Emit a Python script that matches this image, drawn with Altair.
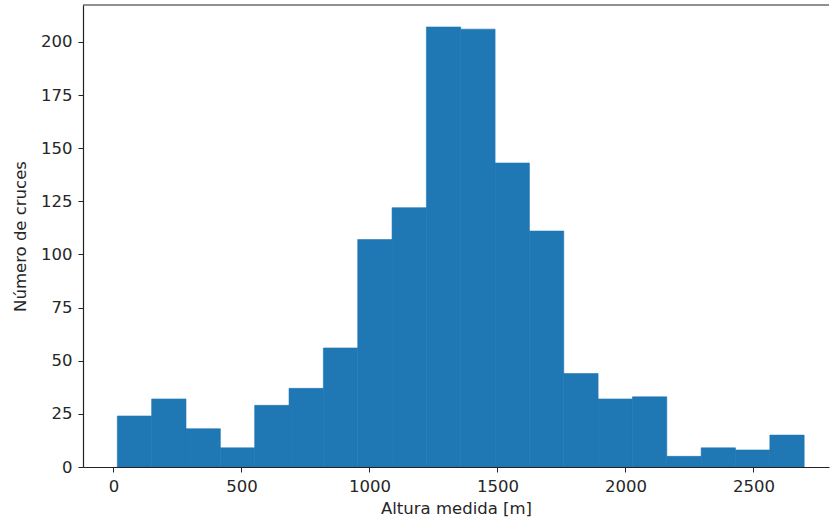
import altair as alt
import pandas as pd

# Histogram of measured heights: bin edges and counts per bin
edges = [15.0, 149.2, 283.3, 417.5, 551.6, 685.8, 819.9, 954.1, 1088.2, 1222.4,
         1356.5, 1490.7, 1624.8, 1759.0, 1893.1, 2027.3, 2161.4, 2295.6, 2429.7,
         2563.9, 2698.0]
counts = [24, 32, 18, 9, 29, 37, 56, 107, 122, 207, 206, 143, 111, 44, 32, 33,
          5, 9, 8, 15]
x_ticks = [0, 500, 1000, 1500, 2000, 2500]
y_ticks = [0, 25, 50, 75, 100, 125, 150, 175, 200]

df = pd.DataFrame({"lo": edges[:-1], "hi": edges[1:], "n": counts})

W, H = 746, 462
x_dom = [-119, 2795]
y_dom = [0, 217.35]

font = "DejaVu Sans"
fs = 16.5

bars = alt.Chart(df).mark_rect(
    color="#1f77b4", stroke="#1f77b4", strokeWidth=0.6, clip=True
).encode(
    x=alt.X("lo:Q",
            scale=alt.Scale(domain=x_dom, nice=False, zero=False),
            axis=alt.Axis(values=x_ticks, format="d", title="Altura medida [m]",
                          labelPadding=6, titlePadding=6)),
    x2="hi:Q",
    y=alt.Y("n:Q",
            scale=alt.Scale(domain=y_dom, nice=False),
            axis=alt.Axis(values=y_ticks, format="d", title="Número de cruces",
                          labelPadding=6, titlePadding=12)),
    y2=alt.datum(0),
)

# top spine (the right one lies beyond the visible frame)
top = alt.Chart(pd.DataFrame({"k": [0]})).mark_rule(
    color="#222222", strokeWidth=1.2
).encode(x=alt.value(0), x2=alt.value(W), y=alt.value(0))

chart = alt.layer(bars, top).properties(
    width=W, height=H,
    autosize=alt.AutoSizeParams(type="none"),
    padding={"left": 83, "top": 5, "right": 1, "bottom": 57},
).configure_view(stroke=None).configure_axis(
    grid=False,
    domainColor="#222222",
    domainWidth=1.2,
    tickColor="#222222",
    tickSize=5,
    labelFont=font,
    labelFontSize=fs,
    labelColor="#262626",
    titleFont=font,
    titleFontSize=fs,
    titleFontWeight="normal",
    titleColor="#262626",
)

chart.save("out.html", embed_options={"renderer": "svg", "actions": False})
